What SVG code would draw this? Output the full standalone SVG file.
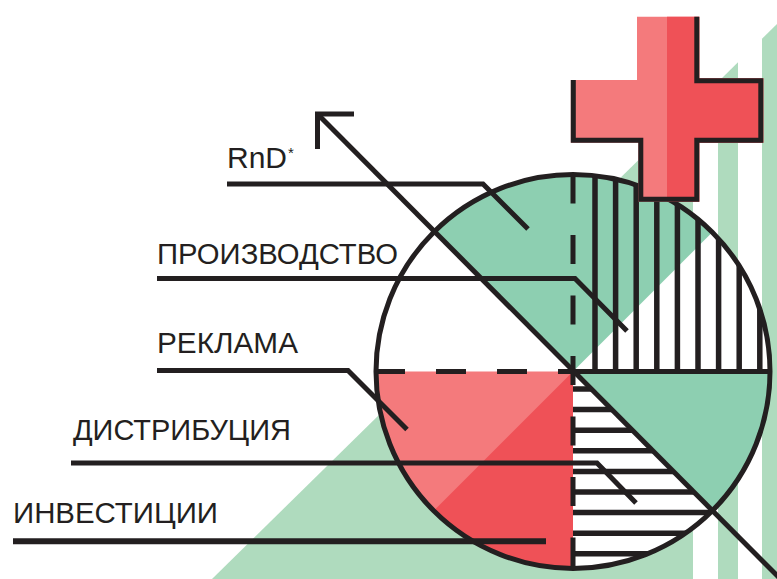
<svg xmlns="http://www.w3.org/2000/svg" width="777" height="579" viewBox="0 0 777 579">
<style>
.ln{stroke:#231f20;stroke-width:5;fill:none;stroke-linejoin:miter}
.ht{stroke:#231f20;stroke-width:5.5}
.lbl{font-family:"Liberation Sans",Arial,sans-serif;font-size:30px;fill:#231f20}
.bg{fill:#afdbbe}
.gr{fill:#8dcfb1}
.rl{fill:#f47a7c}
.rd{fill:#ef5157}
</style>
<defs>
<clipPath id="cTR"><path d="M573,371.5 V174.5 A197,197 0 0 1 770,371.5 Z"/></clipPath>
<clipPath id="cBR"><path d="M573,371.5 L712.3,510.8 A197,197 0 0 1 573,568.5 Z"/></clipPath>
</defs>
<rect width="777" height="579" fill="#ffffff"/>
<g id="background">
<polygon class="bg" points="212,579 693,106.5 693,579"/>
<polygon class="bg" points="718,82 738,62.3 738,579 718,579"/>
<polygon class="bg" points="762,38.7 777,24 777,579 762,579"/>
</g>
<g id="chart">
<circle cx="573" cy="371.5" r="197" fill="#ffffff"/>
<path class="gr" d="M573,371.5 L433.7,232.2 A197,197 0 0 1 712.3,232.2 Z"/>
<path class="gr" d="M573,371.5 L770,371.5 A197,197 0 0 1 712.3,510.8 Z"/>
<path class="rl" d="M573,371.5 V568.5 A197,197 0 0 1 376,371.5 Z"/>
<path class="rd" d="M573,371.5 V568.5 A197,197 0 0 1 433.7,510.8 Z"/>
<g clip-path="url(#cTR)">
<line class="ht" x1="595" y1="160" x2="595" y2="372"/>
<line class="ht" x1="615.6" y1="160" x2="615.6" y2="372"/>
<line class="ht" x1="636.2" y1="160" x2="636.2" y2="372"/>
<line class="ht" x1="656.8" y1="160" x2="656.8" y2="372"/>
<line class="ht" x1="677.4" y1="160" x2="677.4" y2="372"/>
<line class="ht" x1="698" y1="160" x2="698" y2="372"/>
<line class="ht" x1="718.6" y1="160" x2="718.6" y2="372"/>
<line class="ht" x1="739.2" y1="160" x2="739.2" y2="372"/>
<line class="ht" x1="759.8" y1="160" x2="759.8" y2="372"/>
</g>
<g clip-path="url(#cBR)">
<line class="ht" x1="570" y1="389" x2="780" y2="389"/>
<line class="ht" x1="570" y1="409.6" x2="780" y2="409.6"/>
<line class="ht" x1="570" y1="430.2" x2="780" y2="430.2"/>
<line class="ht" x1="570" y1="450.8" x2="780" y2="450.8"/>
<line class="ht" x1="570" y1="471.4" x2="780" y2="471.4"/>
<line class="ht" x1="570" y1="492" x2="780" y2="492"/>
<line class="ht" x1="570" y1="512.6" x2="780" y2="512.6"/>
<line class="ht" x1="570" y1="533.2" x2="780" y2="533.2"/>
<line class="ht" x1="570" y1="553.8" x2="780" y2="553.8"/>
</g>
<line class="ln" x1="573" y1="371.5" x2="770" y2="371.5"/>
<line class="ln" x1="375" y1="371.5" x2="573" y2="371.5" stroke-dasharray="30 31"/>
<line class="ln" x1="573" y1="174.5" x2="573" y2="568.5" stroke-dasharray="29 31.5"/>
<circle class="ln" cx="573" cy="371.5" r="197"/>
</g>
<g id="axis-arrow">
<line class="ln" x1="317.5" y1="114" x2="780" y2="578.5"/>
<polyline class="ln" points="354,114 317.5,114 317.5,149"/>
</g>
<g id="connectors">
<polyline class="ln" points="227,184 483,184 528,229"/>
<polyline class="ln" points="157,278.5 575,278.5 627,331"/>
<polyline class="ln" points="157,370.5 348,370.5 407,429.5"/>
<polyline class="ln" points="71,463 597,463 636,503"/>
<line class="ln" x1="13" y1="541.2" x2="546" y2="541.2" style="stroke-width:6"/>
</g>
<g id="cross">
<path class="rl" d="M637,16.7 H699.3 V78.3 H763.3 V142.7 H699.3 V201.7 H638.3 V142.7 H570.8 V80 H637 Z"/>
<path class="rd" d="M667,16.7 H699.3 V78.3 H763.3 V142.7 H699.3 V201.7 H667 Z"/>
<polyline class="ln" points="573.3,80 573.3,140.2 640.8,140.2 640.8,199.2 696.8,199.2 696.8,140.2 760.8,140.2 760.8,80.8 696.8,80.8 696.8,16.7"/>
</g>
<g id="label-rnd"><text class="lbl" x="227" y="168">RnD<tspan font-size="15" dx="1" dy="-10">*</tspan></text></g>
<g id="label-production"><text class="lbl" x="157" y="264" textLength="241" lengthAdjust="spacingAndGlyphs">ПРОИЗВОДСТВО</text></g>
<g id="label-advertising"><text class="lbl" x="157" y="353" textLength="141" lengthAdjust="spacingAndGlyphs">РЕКЛАМА</text></g>
<g id="label-distribution"><text class="lbl" x="73" y="440" textLength="218" lengthAdjust="spacingAndGlyphs">ДИСТРИБУЦИЯ</text></g>
<g id="label-investment"><text class="lbl" x="13" y="523" textLength="205" lengthAdjust="spacingAndGlyphs">ИНВЕСТИЦИИ</text></g>
</svg>
